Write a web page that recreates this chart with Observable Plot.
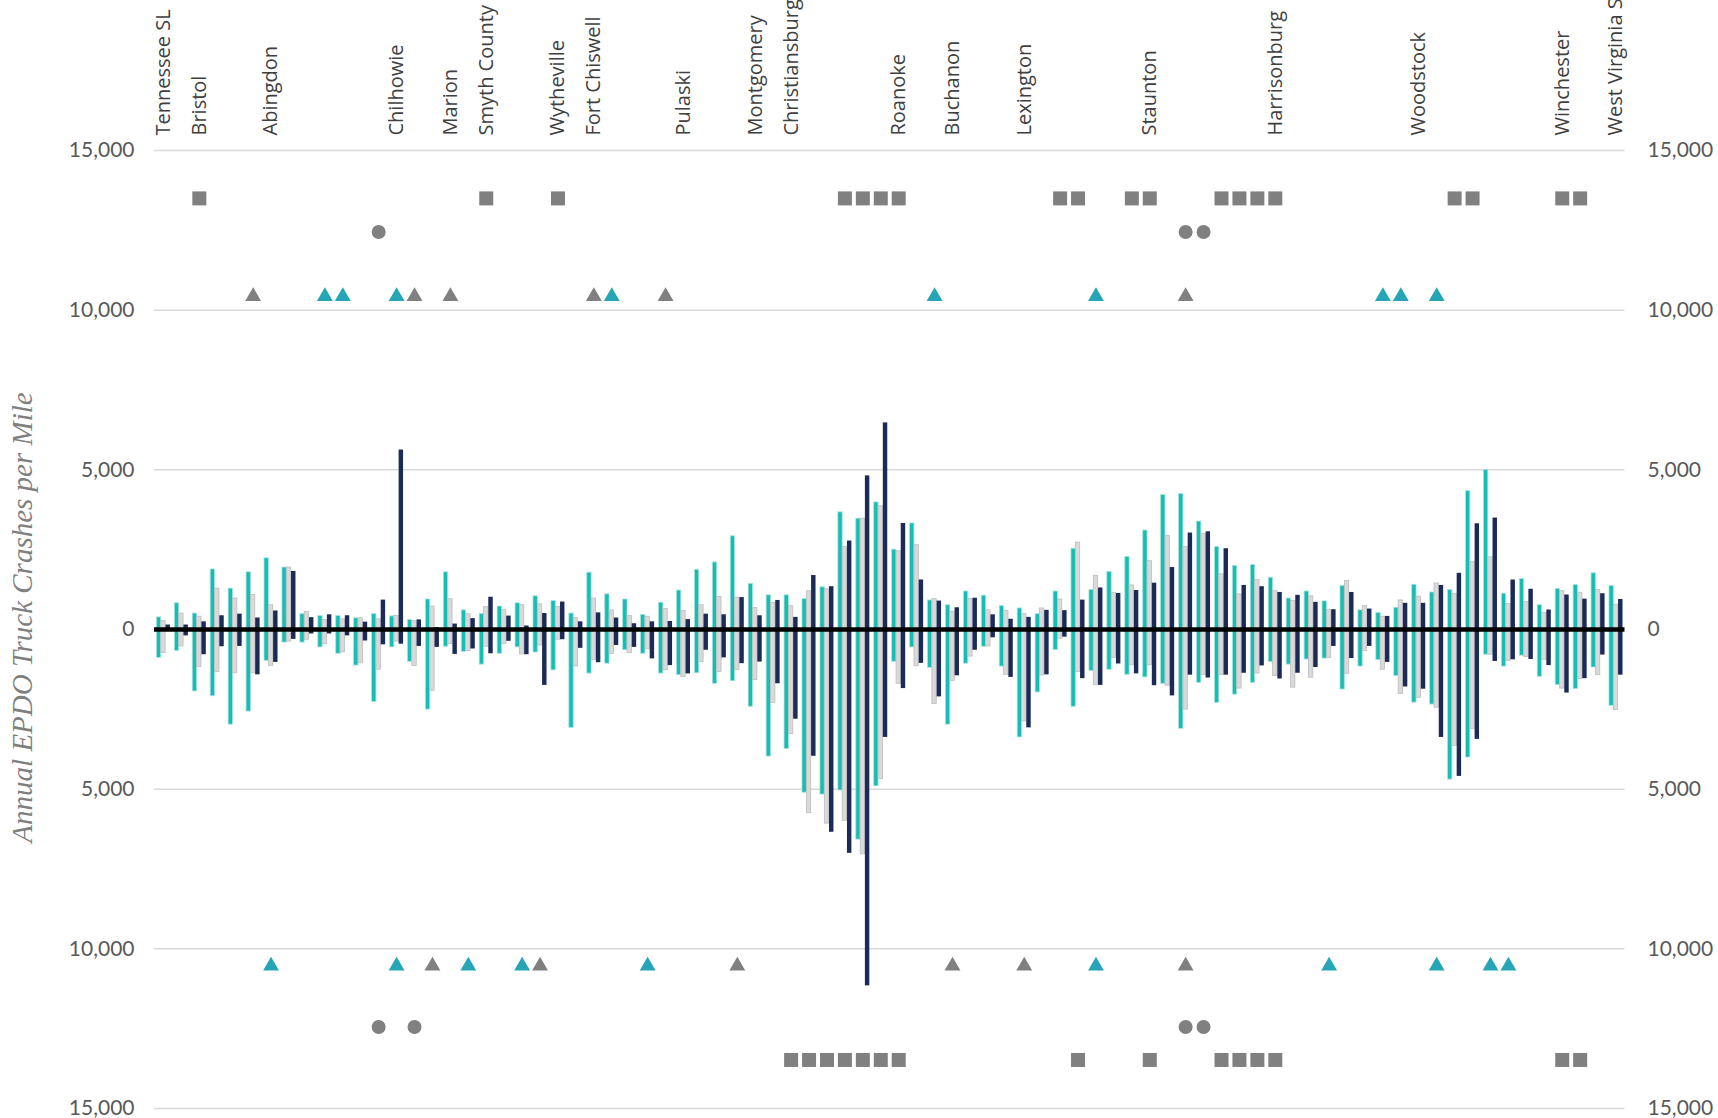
<!DOCTYPE html>
<html><head><meta charset="utf-8">
<script src="https://cdn.jsdelivr.net/npm/d3@7"></script>
<script src="https://cdn.jsdelivr.net/npm/@observablehq/plot@0.6"></script>
<style>body{margin:0;background:#fff} svg{display:block}</style>
</head><body><div id="chart"></div>
<script>
// ---- data ----
const N = 82;
const labelIdx = [0,2,6,13,16,18,22,24,29,33,35,41,44,48,55,62,70,78,81];
const labelNames = ["Tennessee SL","Bristol","Abingdon","Chilhowie","Marion","Smyth County","Wytheville","Fort Chiswell","Pulaski","Montgomery","Christiansburg","Roanoke","Buchanon","Lexington","Staunton","Harrisonburg","Woodstock","Winchester","West Virginia SL"];

const tealUp = [380,820,500,1880,1280,1790,2230,1940,480,420,420,350,480,410,300,940,
 1790,600,480,720,820,1040,890,500,1780,1100,940,460,840,1220,1870,2100,2920,
 1430,1070,1070,950,1320,3670,3470,3980,2500,3320,910,760,1190,1060,730,660,480,
 1190,2530,1240,1800,2270,3100,4210,4240,3380,2580,1990,2020,1620,970,1190,880,
 1360,600,520,680,1400,1160,1240,4330,4990,1120,1580,760,1270,1390,1760,1360];
const tealDown = [890,670,1940,2090,2980,2570,980,410,410,560,760,1130,2270,560,1010,2510,
 540,700,1100,760,560,720,1280,3080,1380,1070,650,760,1380,1430,1370,1700,1620,
 2420,3980,3740,5110,5170,5040,6580,4910,1010,560,1200,2980,1070,540,1160,3380,1970,
 640,2420,1300,1260,1420,1500,1700,3110,1670,2300,2040,1670,1020,1100,940,910,
 1880,1160,960,1460,2290,2350,4700,4010,790,1160,820,1480,1740,1860,1190,2390];
const grayUp = [260,500,400,1280,970,1080,760,1940,550,300,320,350,320,420,260,720,
 950,480,700,620,760,790,710,360,970,600,420,400,640,580,760,1020,1000,
 670,830,730,1200,1260,2580,3470,3860,2450,2640,950,550,960,600,580,480,660,
 940,2720,1680,1150,1380,2140,2930,2580,2990,1730,1100,1550,1200,890,1040,620,
 1520,730,400,910,1030,1440,1120,2120,2260,800,860,520,1200,1150,1240,780];
const grayDown = [740,530,1180,1330,1370,1370,1140,380,320,460,720,1060,1260,380,1140,1920,
 460,680,540,460,780,500,320,1160,950,770,740,620,1280,1490,1020,1330,1270,
 1580,2300,3280,5750,6080,5990,7040,4680,1700,1150,2330,1610,850,530,1420,2880,1440,
 290,1330,1740,890,1120,1120,1760,2510,1430,1430,1850,1380,1460,1820,1510,890,
 1390,670,1260,2020,2140,2450,3650,3120,790,980,860,950,1850,1550,1430,2520];
const navyUp = [140,140,240,430,480,360,580,1820,370,460,430,230,920,5620,300,60,
 170,340,1010,420,110,500,860,240,520,360,180,240,250,310,480,460,1000,
 430,910,380,1690,1340,2770,4810,6470,3320,1550,890,680,980,460,320,380,600,
 590,920,1300,1130,1220,1450,1940,3020,3060,2530,1380,1340,1160,1070,850,620,
 1160,640,410,820,820,1380,1760,3310,3490,1550,1260,610,1080,950,1120,940];
const navyDown = [60,200,790,540,530,1420,1030,310,140,140,200,360,480,460,530,560,
 780,610,760,370,790,1750,320,590,1040,500,560,920,1130,1390,650,890,1070,
 1020,1700,2810,3970,6350,7010,11160,3380,1850,1060,2110,1450,650,260,1500,3080,1420,
 240,1540,1750,1080,1390,1760,2080,1430,1520,1430,1370,1140,1550,1370,1190,530,
 910,530,1030,1800,1870,3380,4600,3440,1000,950,940,1130,1990,1540,800,1430];

const sqTop = [2,18,22,38,39,40,41,50,51,54,55,59,60,61,62,72,73,78,79];
const circTop = [12,57,58];
const triTealTop = [9,10,13,25,43,52,68,69,71];
const triGrayTop = [5,14,16,24,28,57];
const triTealBot = [6,13,17,20,27,52,65,71,74,75];
const triGrayBot = [15,21,32,44,48,57];
const circBot = [12,14,57,58];
const sqBot = [35,36,37,38,39,40,41,51,55,59,60,61,62,78,79];

const tickVals = [-15000,-10000,-5000,0,5000,10000,15000];
const gridVals = [-15000,-10000,-5000,5000,10000,15000];
const yTitle = "Annual EPDO Truck Crashes per Mile";

// ---- build rows ----
function rowsOf(up, down) {
  const r = [];
  up.forEach((v, i) => r.push({i, v}));
  down.forEach((v, i) => r.push({i, v: -v}));
  return r;
}
const tealRows = rowsOf(tealUp, tealDown);
const grayRows = rowsOf(grayUp, grayDown);
const navyRows = rowsOf(navyUp, navyDown);

const fmt = d => d3.format(",")(Math.abs(d));
const TEAL = "#17BDB2", TEAL_EDGE = "#A6E3DE", GRAY = "#D9D9D9", GRAY_EDGE = "#BDBDBD", NAVY = "#1B2A56";
const TRI_TEAL = "#25A5B5", MARK_GRAY = "#808080";
const K = v => () => v;

const chart = Plot.plot({
  width: 1718, height: 1118,
  marginTop: 150, marginBottom: 10, marginLeft: 154, marginRight: 93.5,
  x: {type: "band", domain: d3.range(N), padding: 0, axis: null},
  y: {domain: [-15000, 15000], axis: null},
  style: {background: "white"},
  marks: [
    Plot.ruleY(gridVals, {stroke: "#d9d9d9", strokeWidth: 1.5}),
    Plot.text(tickVals, {y: d => d, frameAnchor: "left", dx: -20, textAnchor: "end", text: fmt,
      fontSize: 21, fontFamily: "Lato, 'Liberation Sans', sans-serif", fill: "#595959"}),
    Plot.text(tickVals, {y: d => d, frameAnchor: "right", dx: 22.5, textAnchor: "start", text: fmt,
      fontSize: 21, fontFamily: "Lato, 'Liberation Sans', sans-serif", fill: "#595959"}),
    Plot.barY(tealRows, {x: "i", y1: 0, y2: "v", fill: TEAL, stroke: TEAL_EDGE, strokeWidth: 0.8, insetLeft: 2.4, insetRight: 11.2}),
    Plot.barY(grayRows, {x: "i", y1: 0, y2: "v", fill: GRAY, stroke: GRAY_EDGE, strokeWidth: 0.8, insetLeft: 6.8, insetRight: 6.8}),
    Plot.barY(navyRows, {x: "i", y1: 0, y2: "v", fill: NAVY, insetLeft: 11.5, insetRight: 2.0}),
    Plot.ruleY([0], {stroke: "#000", strokeWidth: 4.6}),
    Plot.dot(sqTop, {x: d => d, y: K(13500), symbol: "square", r: 7.9, fill: MARK_GRAY}),
    Plot.dot(circTop, {x: d => d, y: K(12450), symbol: "circle", r: 7, fill: MARK_GRAY}),
    Plot.dot(triTealTop, {x: d => d, y: K(10430), symbol: "triangle", r: 5.9, fill: TRI_TEAL}),
    Plot.dot(triGrayTop, {x: d => d, y: K(10430), symbol: "triangle", r: 5.9, fill: MARK_GRAY}),
    Plot.dot(triTealBot, {x: d => d, y: K(-10535), symbol: "triangle", r: 5.9, fill: TRI_TEAL}),
    Plot.dot(triGrayBot, {x: d => d, y: K(-10535), symbol: "triangle", r: 5.9, fill: MARK_GRAY}),
    Plot.dot(circBot, {x: d => d, y: K(-12450), symbol: "circle", r: 7, fill: MARK_GRAY}),
    Plot.dot(sqBot, {x: d => d, y: K(-13480), symbol: "square", r: 7.9, fill: MARK_GRAY}),
    Plot.text(labelIdx, {x: d => d, text: (d, i) => labelNames[i], frameAnchor: "top", dy: -15,
      rotate: -90, textAnchor: "start", lineAnchor: "middle",
      fontSize: 20, fontFamily: "'Open Sans', sans-serif", fill: "#404040"}),
    Plot.text([yTitle], {frameAnchor: "left", dx: -132, dy: -12, rotate: -90, textAnchor: "middle", lineAnchor: "middle",
      fontSize: 29, fontStyle: "italic", fontFamily: "'Liberation Serif', serif", fill: "#7f7f7f"})
  ]
});
document.getElementById("chart").appendChild(chart);
</script>
</body></html>
